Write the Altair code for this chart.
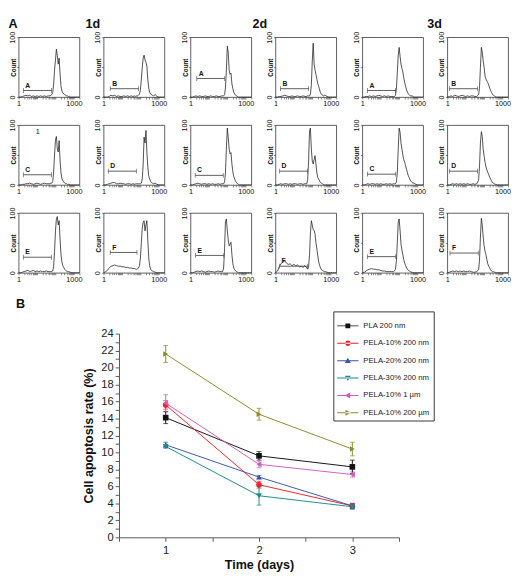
import altair as alt
import pandas as pd

FONT = "Liberation Sans"

# ---------------- Panel A: flow-cytometry histograms ----------------
channel = [1, 1.3, 1.6, 2, 2.5, 3.2, 4, 5, 6.3, 7.9,
           10, 12.6, 15.8, 20, 25, 31.6, 39.8, 50, 56, 63,
           71, 79, 89, 100, 112, 126, 141, 158, 178, 200,
           224, 251, 282, 316, 355, 398, 447, 501, 631, 794,
           1000, 1259, 1585, 2000]

d1_A = [0,0,1,2,3,2,3,1,2,1, 2,1,2,1,2,1,2,2,3,4, 8,20,45,62,80,70,55,65,38,18, 10,7,5,4,3,2,2,1,0,0, 0,0,0,0]
d1_B = [0,0,0,1,3,2,3,1,2,1, 1,2,1,2,1,2,1,2,1,2, 2,3,5,12,30,50,65,70,62,58, 52,30,15,8,5,4,3,2,4,1, 0,0,0,0]
d1_C = [0,0,1,1,2,2,3,2,1,2, 3,2,1,2,3,2,2,2,3,3, 6,20,50,75,81,60,55,74,40,20, 10,7,5,3,2,2,1,1,0,0, 0,0,0,0]
d1_D = [0,0,1,2,3,4,4,2,2,3, 2,2,1,2,2,1,2,1,2,2, 2,2,2,2,3,10,35,80,70,91, 55,30,15,10,6,4,3,2,3,1, 0,0,0,0]
d1_E = [0,0,1,2,3,4,2,3,4,2, 3,2,3,2,2,3,2,2,2,2, 3,10,35,70,90,94,80,87,55,30, 18,12,9,6,4,3,2,2,1,0, 0,0,0,0]
d1_F = [0,2,4,8,11,12,13,12,11,11, 10,10,9,9,8,8,7,7,6,6, 7,8,12,25,50,75,85,87,70,80, 87,55,25,12,6,4,3,2,1,0, 0,0,0,0]

d2_A = [0,0,1,2,1,2,1,1,2,1, 1,2,1,1,2,1,1,2,2,2, 4,15,45,85,75,45,38,40,22,14, 8,5,3,2,1,0,0,0,0,0, 0,0,0,0]
d2_B = [0,0,1,1,2,3,2,1,1,2, 1,1,2,1,1,2,1,1,2,2, 2,5,20,60,90,55,45,38,30,22, 18,12,7,5,3,2,3,3,1,0, 0,0,0,0]
d2_C = [0,0,1,2,3,2,1,2,2,1, 2,1,2,1,1,2,1,2,2,2, 5,20,60,95,80,60,52,54,35,22, 14,10,6,4,2,1,0,0,0,0, 0,0,0,0]
d2_D = [0,0,1,2,1,2,2,1,2,1, 2,2,1,2,2,1,2,2,8,40, 90,95,60,40,35,42,49,35,20,12, 10,6,4,3,2,1,0,0,0,0, 0,0,0,0]
d2_E = [0,0,1,2,3,2,3,2,1,2, 3,2,2,1,2,3,2,2,2,8, 40,85,90,70,55,45,48,51,30,15, 8,5,3,2,1,0,0,0,0,0, 0,0,0,0]
d2_F = [0,3,10,15,18,20,16,14,15,12, 14,12,13,10,11,9,12,8,6,10, 30,65,87,80,72,71,65,50,40,28, 18,12,8,5,4,3,2,2,1,0, 0,0,0,0]

d3_A = [0,0,1,1,2,1,2,1,2,3, 2,1,2,1,2,1,1,1,1,3, 15,40,70,83,68,55,48,42,32,24, 18,12,8,5,4,2,2,2,0,0, 0,0,0,0]
d3_B = [0,1,2,1,3,2,1,2,3,2, 1,2,1,2,2,1,1,4,15,50, 83,75,60,50,35,30,27,24,20,15, 11,8,5,3,2,1,0,0,0,0, 0,0,0,0]
d3_C = [0,0,1,2,1,2,2,1,2,1, 2,1,1,2,1,2,1,2,2,2, 5,20,60,95,88,70,60,50,42,38, 32,26,20,15,12,8,6,4,3,1, 0,0,0,0]
d3_D = [0,0,1,2,1,2,1,2,1,2, 1,2,1,1,2,1,2,8,30,70, 89,81,60,48,38,30,25,21,17,13, 10,7,4,3,2,1,1,0,0,0, 0,0,0,0]
d3_E = [0,1,3,5,6,7,6,6,5,5, 4,3,3,2,2,2,2,2,3,6, 20,50,85,90,70,48,38,30,22,16, 12,8,6,4,3,2,1,1,0,0, 0,0,0,0]
d3_F = [0,1,2,3,2,3,2,3,2,3, 2,2,3,2,1,1,2,5,20,60, 91,80,60,45,36,30,22,15,11,8, 5,3,2,2,1,1,0,0,0,0, 0,0,0,0]

day_labels = ["1d", "2d", "3d"]
sample_labels = ["A", "B", "C", "D", "E", "F"]
hist_counts = {
    "1d": [d1_A, d1_B, d1_C, d1_D, d1_E, d1_F],
    "2d": [d2_A, d2_B, d2_C, d2_D, d2_E, d2_F],
    "3d": [d3_A, d3_B, d3_C, d3_D, d3_E, d3_F],
}

# marker (gate) bars: left end, right end, height, per sample A..F
gate_lo = {"1d": [1.8, 2.3, 1.8, 1.8, 1.8, 2.3],
           "2d": [2.2, 1.9, 1.8, 1.7, 1.9, 1.7],
           "3d": [1.9, 1.3, 1.9, 1.3, 1.9, 1.4]}
gate_hi = {"1d": [60, 79, 60, 60, 60, 65],
           "2d": [72, 63, 60, 56, 65, 56],
           "3d": [65, 44, 65, 44, 65, 48]}
gate_y = {"1d": [11, 14, 17, 23, 26, 34],
          "2d": [31, 14, 16, 23, 29, 11],
          "3d": [11, 14, 18, 23, 27, 33]}

# small annotation inside 1d / C
note_panel = ("1d", "C")
note_x = [11]
note_y = [88]
note_text = ["1"]

x_tick_values = [1, 2, 3, 4, 5, 6, 7, 8, 9, 10, 20, 30, 40, 50, 60, 70, 80, 90,
                 100, 200, 300, 400, 500, 600, 700, 800, 900, 1000, 2000]
day_title_dx = [5, 0, 3]

# ---------------- Panel B: apoptosis rate ----------------
series = ["PLA 200 nm", "PELA-10% 200 nm", "PELA-20% 200 nm",
          "PELA-30% 200 nm", "PELA-10% 1 µm", "PELA-10% 200 µm"]
series_colors = ["#111111", "#e8232b", "#3a56a5", "#1d8a8a", "#d05dbd", "#8c8a2c"]
series_shapes = ["square", "circle", "triangle-up", "triangle-down",
                 "triangle-left", "triangle-right"]
days = [1, 2, 3]
rate_pla = [14.1, 9.6, 8.3]
rate_pela10_200nm = [15.6, 6.2, 3.7]
rate_pela20_200nm = [10.9, 7.1, 3.7]
rate_pela30_200nm = [10.7, 4.9, 3.6]
rate_pela10_1um = [15.8, 8.6, 7.4]
rate_pela10_200um = [21.6, 14.5, 10.4]
err_pla = [0.7, 0.5, 0.8]
err_pela10_200nm = [0.5, 0.4, 0.3]
err_pela20_200nm = [0.3, 0.2, 0.3]
err_pela30_200nm = [0.2, 1.1, 0.3]
err_pela10_1um = [1.0, 0.4, 0.3]
err_pela10_200um = [1.0, 0.7, 0.8]

rates = [rate_pla, rate_pela10_200nm, rate_pela20_200nm,
         rate_pela30_200nm, rate_pela10_1um, rate_pela10_200um]
errs = [err_pla, err_pela10_200nm, err_pela20_200nm,
        err_pela30_200nm, err_pela10_1um, err_pela10_200um]

# legend symbols: a short line with the marker on it
_ln = "M-1,-0.045H1V0.045H-1Z "
legend_paths = [
    _ln + "M-0.23,-0.23H0.23V0.23H-0.23Z",
    _ln + "M-0.25,0A0.25,0.25,0,1,0,0.25,0A0.25,0.25,0,1,0,-0.25,0Z",
    _ln + "M0,-0.28L0.28,0.22L-0.28,0.22Z",
    _ln + "M0,0.28L0.28,-0.22L-0.28,-0.22Z",
    _ln + "M-0.28,0L0.22,-0.28L0.22,0.28Z",
    _ln + "M0.28,0L-0.22,-0.28L-0.22,0.28Z",
]

# ====================================================================
HW, HH = 63, 62

hist_x_scale = alt.Scale(type="log", domain=[1, 2000], nice=False)
hist_y_scale = alt.Scale(domain=[0, 100], nice=False)

hist_x_axis = alt.Axis(
    values=x_tick_values,
    labelExpr="datum.value == 1 ? '1' : (datum.value == 1000 ? '1000' : '')",
    labelFontSize=7.5, labelColor="#111", labelPadding=1, labelFlush=False,
    labelOverlap=False, tickSize=2, tickColor="#333", tickWidth=0.6,
    domain=False, grid=False, title=None)
hist_y_axis = alt.Axis(
    values=[0, 50, 100],
    labelExpr="datum.value == 50 ? '' : datum.label",
    labelAngle=270, labelAlign="center", labelBaseline="bottom",
    labelFontSize=7.5, labelColor="#111", labelPadding=0, labelFlush=False,
    labelOverlap=False, tickSize=2, tickColor="#333", tickWidth=0.6,
    domain=False, grid=False, title="Count", titleFontSize=6.5,
    titleFontWeight="bold", titlePadding=-7.5, titleColor="#111")


def hist_panel(day, i):
    s = sample_labels[i]
    df = pd.DataFrame({"x": channel, "n": hist_counts[day][i]})
    line = alt.Chart(df).mark_line(color="#222", strokeWidth=0.8).encode(
        x=alt.X("x:Q", scale=hist_x_scale, axis=hist_x_axis),
        y=alt.Y("n:Q", scale=hist_y_scale, axis=hist_y_axis),
    )
    g = pd.DataFrame({"lo": [gate_lo[day][i]], "hi": [gate_hi[day][i]],
                      "gy": [gate_y[day][i]], "lab": [s]})
    gate = alt.Chart(g).mark_errorbar(ticks={"size": 5}, color="#333",
                                      thickness=0.8).encode(
        x=alt.X("lo:Q", scale=hist_x_scale, axis=hist_x_axis),
        x2="hi:Q",
        y=alt.Y("gy:Q", scale=hist_y_scale, axis=hist_y_axis),
    )
    txt = alt.Chart(g).mark_text(align="left", baseline="bottom", dx=2, dy=-2,
                                 fontSize=7, fontWeight="bold",
                                 color="#111").encode(
        x=alt.X("lo:Q", scale=hist_x_scale, axis=hist_x_axis),
        y=alt.Y("gy:Q", scale=hist_y_scale, axis=hist_y_axis),
        text="lab:N",
    )
    layers = [line, gate, txt]
    if (day, s) == note_panel:
        nd = pd.DataFrame({"x": note_x, "n": note_y, "t": note_text})
        layers.append(alt.Chart(nd).mark_text(fontSize=7.5, color="#111").encode(
            x=alt.X("x:Q", scale=hist_x_scale, axis=hist_x_axis),
            y=alt.Y("n:Q", scale=hist_y_scale, axis=hist_y_axis),
            text="t:N"))
    return alt.layer(*layers).properties(
        width=HW, height=HH,
        view=alt.ViewBackground(stroke="#333", strokeWidth=0.8))


def day_group(k):
    day = day_labels[k]
    rows = [alt.hconcat(hist_panel(day, 2 * r), hist_panel(day, 2 * r + 1),
                        spacing=11) for r in range(3)]
    return alt.vconcat(*rows, spacing=11).properties(
        title=alt.TitleParams(day, fontSize=13, fontWeight="bold",
                              anchor="middle", offset=0, dx=day_title_dx[k]))


panel_a = alt.hconcat(*[day_group(k) for k in range(3)], spacing=13).properties(
    title=alt.TitleParams("A", fontSize=13, fontWeight="bold", anchor="start",
                          offset=0, dy=13))

# -------- panel B ----------
recs = []
for s, rr, ee in zip(series, rates, errs):
    for d, v, e in zip(days, rr, ee):
        recs.append({"series": s, "day": d, "rate": v, "lo": v - e, "hi": v + e})
bdf = pd.DataFrame(recs)

bx_scale = alt.Scale(domain=[0.5, 3.5], nice=False)
by_scale = alt.Scale(domain=[0, 24], nice=False)
bx_axis = alt.Axis(values=[0.5, 1, 1.5, 2, 2.5, 3, 3.5],
                   labelExpr="datum.value % 1 == 0 ? '' + datum.value : ''",
                   labelFontSize=11.5, labelColor="#222", labelPadding=4,
                   labelFlush=False, labelOverlap=False,
                   tickSize=4, tickColor="#555", domainColor="#555", grid=False,
                   title="Time (days)", titleFontSize=13, titleFontWeight="bold",
                   titleColor="#111", titlePadding=3)
by_axis = alt.Axis(values=list(range(0, 25)),
                   labelExpr="datum.value % 2 == 0 ? '' + datum.value : ''",
                   labelFontSize=11.5, labelColor="#222", labelPadding=2,
                   labelFlush=False, labelOverlap=False,
                   tickSize=4, tickColor="#555", domainColor="#555", grid=False,
                   title="Cell apoptosis rate (%)", titleFontSize=13,
                   titleFontWeight="bold", titleColor="#111", titlePadding=6)

col_scale = alt.Scale(domain=series, range=series_colors)

bx = alt.X("day:Q", scale=bx_scale, axis=bx_axis)

lines = alt.Chart(bdf).mark_line(strokeWidth=1).encode(
    x=bx,
    y=alt.Y("rate:Q", scale=by_scale, axis=by_axis),
    color=alt.Color("series:N", scale=col_scale, legend=None),
)
ebars = alt.Chart(bdf).mark_errorbar(ticks={"size": 5}, thickness=1).encode(
    x=bx,
    y=alt.Y("lo:Q", scale=by_scale, axis=by_axis),
    y2="hi:Q",
    color=alt.Color("series:N", scale=col_scale, legend=None),
)
points = alt.Chart(bdf).mark_point(filled=True, opacity=1, size=34).encode(
    x=bx,
    y=alt.Y("rate:Q", scale=by_scale, axis=by_axis),
    color=alt.Color("series:N", scale=col_scale, legend=None),
    shape=alt.Shape("series:N", scale=alt.Scale(domain=series, range=series_shapes),
                    legend=None),
)
legend_layer = alt.Chart(bdf).transform_filter("false").mark_point(
    filled=True, opacity=1, size=484).encode(
    x=bx,
    y=alt.Y("rate:Q", scale=by_scale, axis=by_axis),
    color=alt.Color("series:N", scale=alt.Scale(domain=series, range=series_colors),
                    legend=alt.Legend(
                        title=None, orient="none", legendX=222, legendY=-23,
                        direction="vertical", labelFontSize=8, labelColor="#222",
                        symbolSize=484, symbolStrokeWidth=0, symbolOpacity=1,
                        strokeColor="#333", fillColor="white", padding=4,
                        rowPadding=3, labelOffset=5, labelLimit=0)),
    shape=alt.Shape("series:N", scale=alt.Scale(domain=series, range=legend_paths)),
)

panel_b_plot = alt.layer(lines, ebars, points, legend_layer).resolve_scale(
    color="independent", shape="independent").properties(width=290, height=211)

# invisible spacer that pushes the plot of panel B to the right
spacer = alt.Chart(pd.DataFrame({"v": [0]})).mark_point(opacity=0).encode(
    x=alt.value(0), y=alt.value(0)).properties(width=66, height=10)

panel_b = alt.hconcat(spacer, panel_b_plot, spacing=0).properties(
    title=alt.TitleParams("B", fontSize=13, fontWeight="bold", anchor="start",
                          offset=0))

chart = alt.vconcat(panel_a, panel_b, spacing=15).properties(
    padding=0, background="white"
).configure(font=FONT).configure_view(strokeWidth=0).configure_title(
    font=FONT, color="#111").configure_axis(labelFont=FONT, titleFont=FONT
).configure_legend(labelFont=FONT)

chart.save("out.html", embed_options={"renderer": "svg", "actions": False})
